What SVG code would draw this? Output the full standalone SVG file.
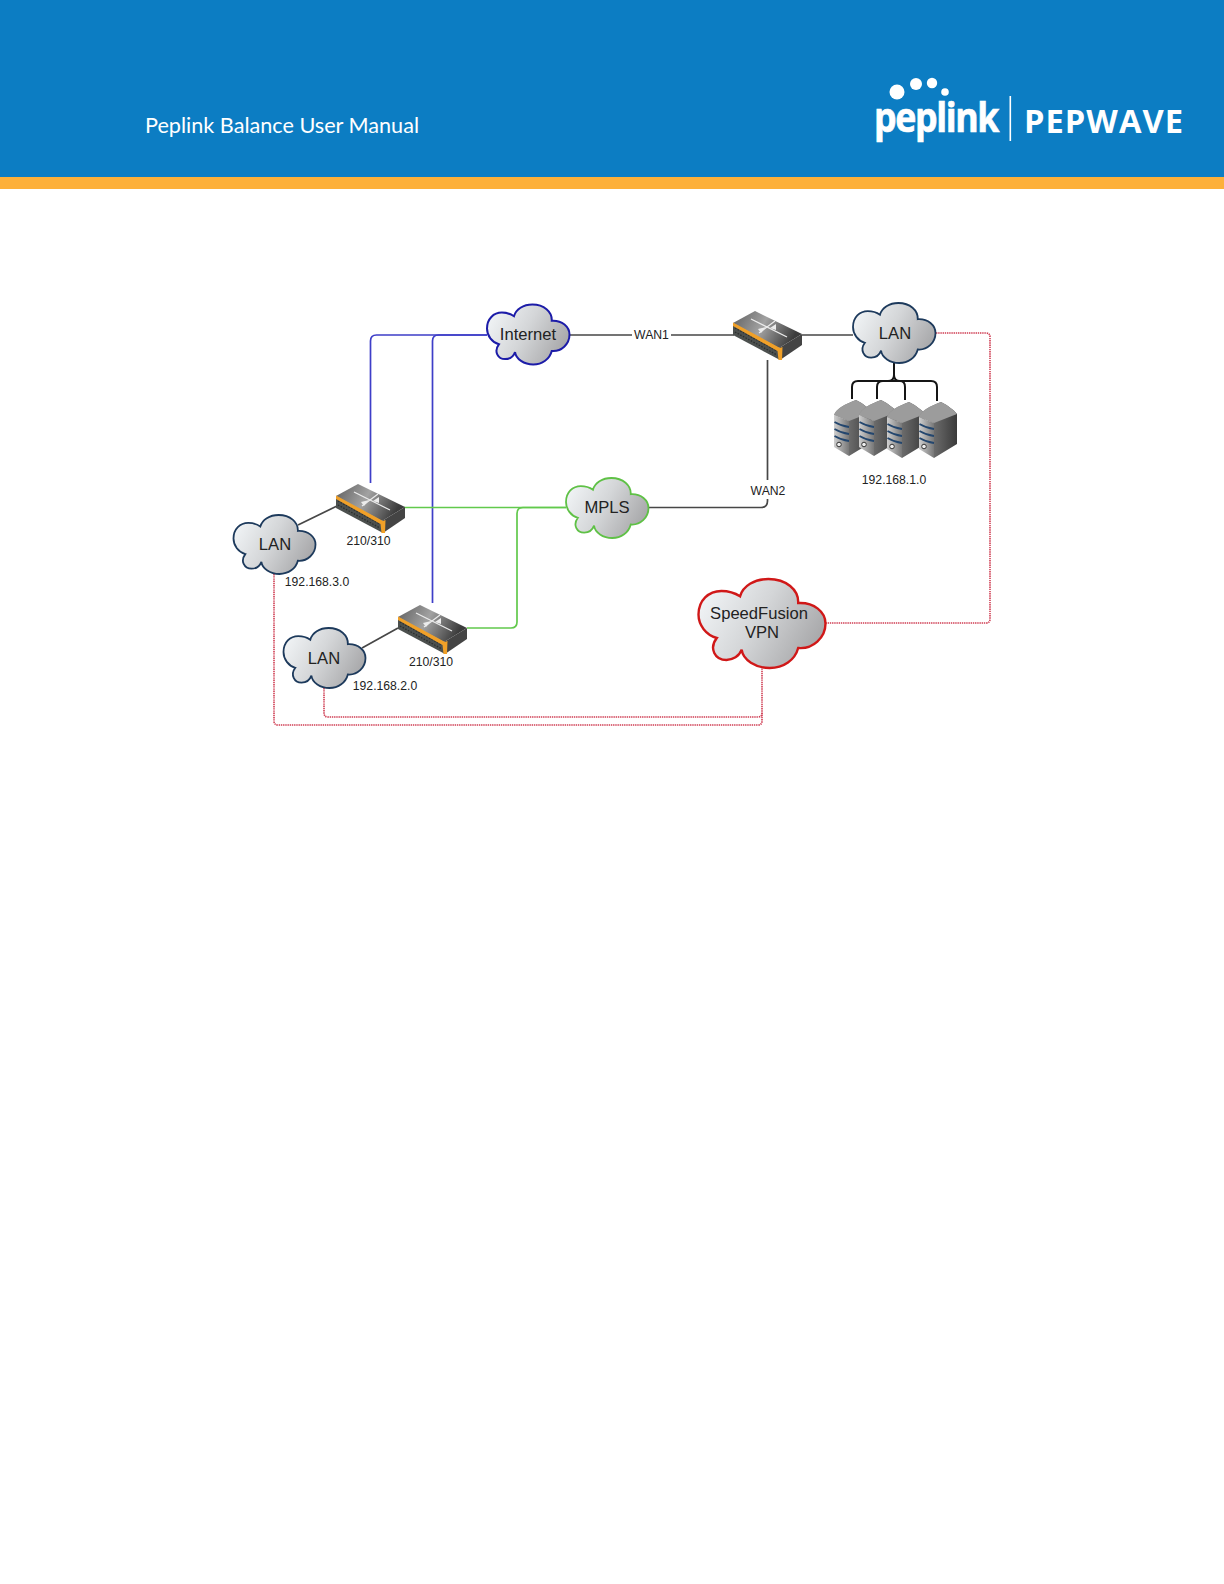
<svg xmlns="http://www.w3.org/2000/svg" xmlns:xlink="http://www.w3.org/1999/xlink" width="1224" height="1584" viewBox="0 0 1224 1584">
<style>
text{font-family:"Liberation Sans",Arial,sans-serif;fill:#222}
.lbl{font-size:12.2px;text-anchor:middle}
.cl{font-size:16.6px;text-anchor:middle}
.cloud{fill:url(#cg);vector-effect:non-scaling-stroke}
.ln{fill:none;stroke-linejoin:round}
.dk{stroke:#474747;stroke-width:1.7}
.bk{stroke:#151515;stroke-width:2}
.bl{stroke:#3e3ec8;stroke-width:1.7}
.gn{stroke:#62c94c;stroke-width:1.7}
.rd{stroke:#cf3c52;stroke-width:1.6;stroke-dasharray:1.4 .8}
.wt{fill:#fff}
</style>
<defs>
<linearGradient id="cg" x1="0" y1="0.3" x2="1" y2="0.7"><stop offset="0" stop-color="#f0f3f5"/><stop offset="0.45" stop-color="#d4d6d8"/><stop offset="1" stop-color="#a4a4a6"/></linearGradient>
<linearGradient id="st" x1="0" y1="0" x2="1" y2="0.3"><stop offset="0" stop-color="#5e5e5e"/><stop offset="0.5" stop-color="#a2a2a2"/><stop offset="1" stop-color="#3c3c3c"/></linearGradient>
<linearGradient id="sf" x1="0" y1="0" x2="1" y2="0"><stop offset="0" stop-color="#cfcfcf"/><stop offset="1" stop-color="#777"/></linearGradient>
<linearGradient id="ss" x1="0" y1="0" x2="1" y2="0"><stop offset="0" stop-color="#8c8c8c"/><stop offset="1" stop-color="#3a3a3a"/></linearGradient>
<path id="cp" class="cloud" d="M14.4 66.300C6 63 0 52 0 40C0 24 8 13.500 18 13.500C24 13.500 29 16 32.700 19.500C35 8 44 0 55 0C69 0 79 12 78.500 27C91 26 100 37 100 50C100 66 90 79 78.500 77.500C76 91 67 100 56 100C45 100 35 91 34 79.400C32 87 27 91 22 91C13 91 8 78 14.400 66.300Z"/>
<g id="sw">
<polygon points="0,13 22,1 69,24 46,38" fill="url(#st)"/>
<polygon points="46,38 69,24 69,35 47,50" fill="#444"/>
<polygon points="0,13 46,38 47,50 0,25" fill="#4c504e"/>
<path d="M2 18L44 41M2 22L44 45" stroke="#2b2e2e" stroke-width="1.3" stroke-dasharray="1.5 1.5" fill="none"/>
<polygon points="0,12.500 47,38 49.500,37 49,50 45.500,50 44.500,41 0,16" fill="#f0a028"/>
<path d="M18 9L54 27M42 11L26 23" stroke="#ececec" stroke-width="1.200" fill="none"/>
<path d="M33 17L25 19L28 23ZM37 18L43 14L43 20Z" fill="#ececec"/>
</g>
<g id="srv">
<path d="M0 15C2 8 14 3 22 0C28 3 35 8 38 12V42L15 56L15 21Z" fill="url(#ss)"/>
<path d="M0 15C2 8 14 3 22 0C28 3 35 8 38 12L15 21Z" fill="#9c9c9c"/>
<path d="M0 15L15 21V56L0 47Z" fill="url(#sf)"/>
<path d="M.5 22Q7 26 15 27M.5 29Q7 33 15 34M.5 36Q7 40 15 41" fill="none" stroke="#23466e" stroke-width="1.800"/>
<circle cx="5" cy="44.500" r="2.300" fill="#eee" stroke="#333" stroke-width="1"/>
</g>
</defs>

<g id="banner">
<rect x="0" y="0" width="1224" height="177" fill="#0c7dc3"/>
<rect x="0" y="177" width="1224" height="12" fill="#fdb03a"/>
<text x="145" y="133" font-size="22" textLength="274" lengthAdjust="spacingAndGlyphs" style="font-family:Lato,'Open Sans',sans-serif;fill:#fff">Peplink Balance User Manual</text>
<circle class="wt" cx="897" cy="92" r="7.500"/><circle class="wt" cx="916" cy="84" r="6"/><circle class="wt" cx="932" cy="83" r="5.200"/><circle class="wt" cx="945" cy="92" r="3.800"/>
<text transform="translate(874 132) scale(.85 1)" font-size="42" font-weight="700" letter-spacing="-1.600" stroke="#fff" stroke-width=".7" style="font-family:'Open Sans','Noto Sans',sans-serif;fill:#fff">peplink</text>
<rect class="wt" x="1009.500" y="96" width="1.600" height="45"/>
<text transform="translate(1024 133) scale(1.02 1)" font-size="32" font-weight="700" letter-spacing="1" style="font-family:'Open Sans','Noto Sans',sans-serif;fill:#fff">PEPWAVE</text>
</g>

<g id="connectors">
<path class="ln bl" d="M370.500 483V341Q370.500 335 376.500 335H487"/>
<path class="ln bl" d="M432.500 603V341Q432.500 335 438.500 335H487"/>
<path class="ln gn" d="M404 507.500H566"/>
<path class="ln gn" d="M467 628H511Q517 628 517 622V513.500Q517 507.500 523 507.500H566"/>
<path class="ln dk" d="M569 335H632M671 335H734M802 335H853"/>
<path class="ln dk" d="M767.500 360V480M767.500 499V501Q767.500 507.500 761 507.500H648"/>
<path class="ln dk" d="M298 525L337 506M362 648L398 628"/>
<path class="ln bk" d="M894 363V375Q894 381 888 381H858Q852 381 852 387V399M877 399V387Q877 381 883 381H931Q937 381 937 387V401M894 375Q894 381 900 381Q905 381 905 387V400"/>
<path class="ln rd" d="M936 333H986Q990 333 990 337V619Q990 623 986 623H826"/>
<path class="ln rd" d="M274 574V721Q274 725 278 725H758Q762 725 762 721V668"/>
<path class="ln rd" d="M324 688V713Q324 717 328 717H758Q762 717 762 713"/>
</g>

<g id="internet"><use href="#cp" transform="translate(487 304.500) scale(.825 .6)" stroke="#1c1ca8" stroke-width="2"/><text class="cl" x="528" y="340">Internet</text></g>
<g id="mpls"><use href="#cp" transform="translate(566 478) scale(.825 .6)" stroke="#5fc146" stroke-width="1.800"/><text class="cl" x="607" y="513">MPLS</text></g>
<g id="lan-hq"><use href="#cp" transform="translate(853 303) scale(.825 .6)" stroke="#1d3a5c" stroke-width="1.800"/><text class="cl" x="895" y="339">LAN</text></g>
<g id="lan-3"><use href="#cp" transform="translate(233.500 515) scale(.82 .59)" stroke="#1d3a5c" stroke-width="1.800"/><text class="cl" x="275" y="550">LAN</text></g>
<g id="lan-2"><use href="#cp" transform="translate(283.500 628) scale(.82 .6)" stroke="#1d3a5c" stroke-width="1.800"/><text class="cl" x="324" y="664">LAN</text></g>
<g id="speedfusion"><use href="#cp" transform="translate(698.500 579) scale(1.27 .89)" stroke="#d01818" stroke-width="2.400"/><text class="cl" x="759" y="619">SpeedFusion</text><text class="cl" x="762" y="638">VPN</text></g>

<g id="router-hq"><use href="#sw" transform="translate(733 310)"/></g>
<g id="router-1"><use href="#sw" transform="translate(336 483)"/><text class="lbl" x="368.500" y="545">210/310</text></g>
<g id="router-2"><use href="#sw" transform="translate(398 604)"/><text class="lbl" x="431" y="666">210/310</text></g>

<g id="servers">
<use href="#srv" transform="translate(834 400)"/>
<use href="#srv" transform="translate(859 400)"/>
<use href="#srv" transform="translate(887 402)"/>
<use href="#srv" transform="translate(919 402)"/>
<text class="lbl" x="894" y="484">192.168.1.0</text>
</g>

<g id="labels">
<text class="lbl" x="651.500" y="339">WAN1</text>
<text class="lbl" x="768" y="495">WAN2</text>
<text class="lbl" x="317" y="586">192.168.3.0</text>
<text class="lbl" x="385" y="690">192.168.2.0</text>
</g>
</svg>
